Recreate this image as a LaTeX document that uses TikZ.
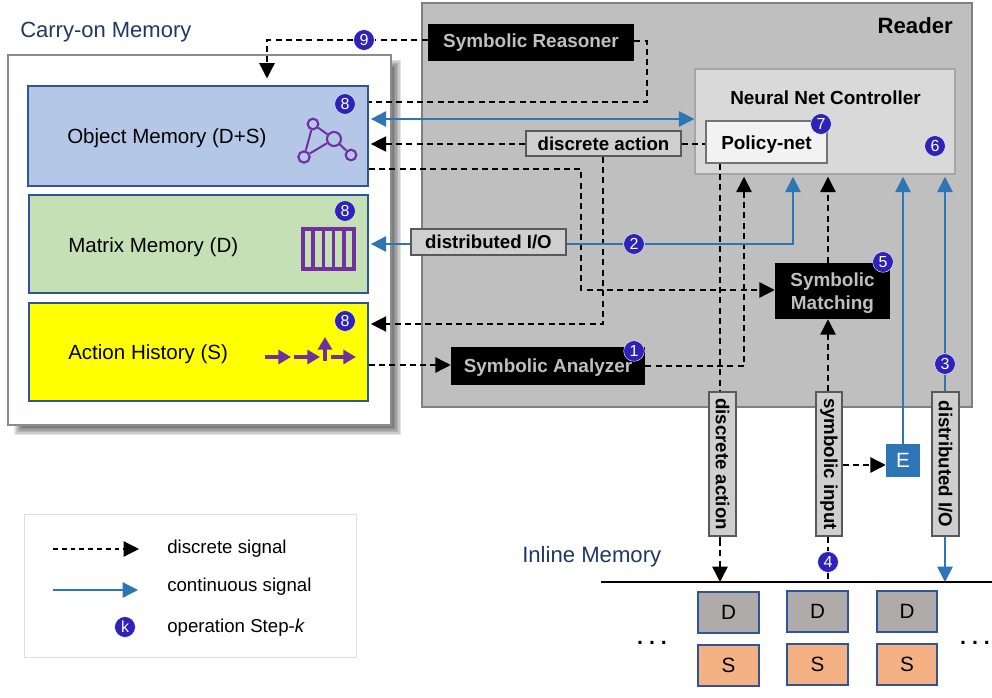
\documentclass[tikz,border=0pt]{standalone}
\usepackage{fontspec}
\usepackage{graphicx}
\setmainfont{Liberation Sans}
\usetikzlibrary{arrows.meta,calc}
\definecolor{blu}{HTML}{2E75B6}
\definecolor{badgec}{HTML}{2E22B8}
\definecolor{purp}{HTML}{7030A0}
\definecolor{navy}{HTML}{1F3864}
\definecolor{edge}{HTML}{2F5597}
\definecolor{omc}{HTML}{B4C7E7}
\definecolor{mmc}{HTML}{C5E0B4}
\definecolor{dc}{HTML}{AFABAB}
\definecolor{sc}{HTML}{F4B183}
\definecolor{yel}{HTML}{FFFF00}
\newcommand{\fs}[1]{\fontsize{#1}{#1}\selectfont}
\newcommand{\pb}[7][]{\node[#1, inner sep=0pt, align=center, minimum width={(#5-#3)*0.75pt}, minimum height={(#6-#4)*0.75pt}] (#2) at ({(#3+#5)/2},{(#4+#6)/2}) {#7};}
\newcommand{\bdg}[4]{\node[badgenode] (#1) at (#2,#3) {#4};}
\tikzset{
 badgenode/.style={circle, fill=badgec, draw=white, line width=0.3pt, text=white, minimum size=15.5pt, inner sep=0pt, font=\fs{12}},
 memb/.style={draw=edge, line width=1.3pt},
 blk/.style={fill=black, text=black!25, font=\bfseries\fs{14.2}},
 lab/.style={fill=black!19, draw=black!65, line width=1.2pt, font=\bfseries\fs{14}},
 cell/.style={draw=edge, line width=1.3pt, font=\fs{15.5}},
 dsig/.style={draw=black, line width=1.1pt, dash pattern=on 4.5pt off 3.2pt, -{Triangle[length=11.5pt,width=11.5pt]}, shorten >=1.5pt},
 dline/.style={draw=black, line width=1.1pt, dash pattern=on 4.5pt off 3.2pt},
 bsig/.style={draw=blu, line width=1.3pt, -{Triangle[length=11.5pt,width=11.5pt]}, shorten >=1.5pt},
 bline/.style={draw=blu, line width=1.3pt},
 icon/.style={draw=purp, line width=1.5pt},
 dot/.style={circle, draw=purp, line width=1.6pt, inner sep=0pt, minimum size=#1},
 parr/.style={draw=purp, line width=2.8pt, -{Triangle[length=9.5pt,width=10.5pt]}},
 txt/.style={anchor=west, inner sep=0pt},
}
\begin{document}
\begin{tikzpicture}[x=0.75pt,y=-0.75pt]
\useasboundingbox (0,0) rectangle (992,698);
% Reader
\pb[fill=black!25, draw=black!50, line width=0.9pt]{reader}{422}{3}{972}{407}{}
\node[anchor=east, inner sep=0pt, font=\bfseries\fs{16.6}] (readerT) at (953,26) {Reader};
% Carry-on shadow
\foreach \d in {0,1.5,3,4.5,6,7.5}
  \fill[black, opacity=.11] ({14+\d},{60+\d}) rectangle ({401-\d},{435-\d});
\pb[fill=white, draw=black!45, line width=0.9pt]{carry}{8}{55}{391}{425}{}
\node[txt, text=navy, font=\fs{16.5}] (carryT) at (20,32) {Carry-on Memory};
\pb[memb, fill=omc]{om}{28}{86}{368}{186}{}
\pb[memb, fill=mmc]{mm}{29}{195}{368}{293}{}
\pb[memb, fill=yel]{ah}{29}{303}{368}{401}{}
\node[txt, font=\fs{15.4}] (omT) at (67,138) {Object Memory (D+S)};
\node[txt, font=\fs{15.4}] (mmT) at (68,247) {Matrix Memory (D)};
\node[txt, font=\fs{15.4}] (ahT) at (68,354) {Action History (S)};
% object icon
\node[dot=8pt] (g1) at (313,124) {};
\node[dot=10.5pt] (g2) at (334,139) {};
\node[dot=8.5pt] (g3) at (304,157) {};
\node[dot=8pt] (g4) at (351,155) {};
\draw[icon] (g1) -- (g2) (g1) -- (g3) (g3) -- (g2) (g2) -- (g4);
% matrix icon
\draw[icon, line width=2.6pt] (303,229) rectangle (354,269);
\foreach \x in {313.2,323.4,333.6,343.8} \draw[icon, line width=2.6pt] (\x,229) -- (\x,269);
% history icon
\draw[parr] (265,357) -- (291,357);
\draw[parr] (294,357) -- (320,357);
\draw[parr] (331,357) -- (356,357);
\draw[parr] (325,361) -- (325,337);
% black boxes etc.
\pb[blk]{sr}{428}{24}{634}{61}{Symbolic Reasoner}
\pb[fill=black!15, draw=black!35, line width=1.1pt]{nn}{695}{69}{955}{174}{}
\node[font=\bfseries\fs{14.2}, inner sep=0pt] (nnT) at (825.5,98) {Neural Net Controller};
\pb[fill=black!5, draw=black!55, line width=1.4pt, text height=12pt, text depth=0pt, font=\bfseries\fs{14.2}]{pn}{706}{121}{827}{163}{Policy-net}
\pb[lab]{da}{526}{131}{681}{156}{discrete action}
\pb[lab]{dio}{411}{229}{566}{255}{distributed I/O}
\pb[blk, text depth=0pt]{sm}{775}{263}{890}{319}{Symbolic\\[3.3pt]Matching}
\pb[blk, text depth=0pt]{sa}{451}{347}{645}{385}{Symbolic Analyzer}
\pb[lab]{vda}{709}{392}{736}{536}{\rotatebox{-90}{discrete action}}
\pb[lab]{vsi}{816}{392}{842}{536}{\rotatebox{-90}{symbolic input}}
\pb[lab]{vdio}{932}{392}{959}{536}{\rotatebox{-90}{distributed I/O}}
\pb[fill=blu, text=white, font=\fs{15.5}]{E}{886}{444}{920}{477}{E}
% inline memory
\node[txt, text=navy, font=\fs{16.6}] (imT) at (522,557) {Inline Memory};
\coordinate (il) at (601,582);
\coordinate (ir) at (992,582);
\draw[black, line width=1.6pt] (il) -- (ir);
\pb[cell, fill=dc]{d1}{698}{592}{759}{633}{D}
\pb[cell, fill=dc]{d2}{787}{591}{848}{632}{D}
\pb[cell, fill=dc]{d3}{877}{591}{937}{632}{D}
\pb[cell, fill=sc]{s1}{698}{645}{759}{686}{S}
\pb[cell, fill=sc]{s2}{787}{644}{848}{685}{S}
\pb[cell, fill=sc]{s3}{877}{644}{937}{685}{S}
\node[inner sep=0pt, font=\bfseries\fs{16}] (dotsL) at (652,643) {.\hspace{4.5pt}.\hspace{4.5pt}.};
\node[inner sep=0pt, font=\bfseries\fs{16}] (dotsR) at (975,643) {.\hspace{4.5pt}.\hspace{4.5pt}.};
% badges
\bdg{b9}{364}{40}{9}
\bdg{b8a}{345}{104}{8}
\bdg{b8b}{345}{211}{8}
\bdg{b8c}{345}{321}{8}
\bdg{b7}{821}{124}{7}
\bdg{b6}{935}{146}{6}
\bdg{b5}{883}{262}{5}
\bdg{b1}{634}{351}{1}
\bdg{b2}{634}{244}{2}
\bdg{b3}{945}{364}{3}
\bdg{b4}{828}{562}{4}
% connectors
\draw[dline] (sr.west |- b9) -- (b9);
\draw[dsig, shorten >=5pt] (b9) -| (om.north -| 267,0);
\draw[dline] (sr.east |- 0,41) -- (647,41) -- (647,102) -- (om.east |- 0,102);
\draw[bline, {Triangle[length=11.5pt,width=11.5pt]}-{Triangle[length=11.5pt,width=11.5pt]}, shorten <=1.5pt, shorten >=0pt] (om.east |- 0,119) -- (nn.west |- 0,119);
\draw[dsig] (da.west |- 0,144) -- (om.east |- 0,144);
\draw[dline] (da.east |- 0,144) -- (pn.west |- 0,144);
\draw[dsig, shorten >=0pt] (om.east |- 0,169) -- (581,169) -- (581,290) -- (sm.west |- 0,290);
\draw[dsig] (da.south -| 603,0) |- (ah.east |- 0,324);
\draw[dsig, shorten >=0pt] (ah.east |- 0,365) -- (sa.west |- 0,365);
\draw[dsig] (sa.east |- 0,366) -| (nn.south -| 744,0);
\draw[dline] (pn.south -| 720,0) -- (vda.north -| 720,0);
\draw[dline] (vda.south -| 720,0) -- (720,540);
\draw[dsig, shorten >=0pt] (720,540) -- (il -| 720,0);
\draw[dsig, shorten >=0pt] (vsi.north -| 828,0) -- (sm.south -| 828,0);
\draw[dsig] (sm.north -| 828,0) -- (nn.south -| 828,0);
\draw[dline] (vsi.south -| 828,0) -- (b4);
\draw[dline] (b4) -- (il -| 828,0);
\draw[dsig, shorten >=0pt] (vsi.east |- 0,465) -- (E.west |- 0,465);
\draw[bsig] (E.north) -- (nn.south -| E.north);
\draw[bline] (vdio.north -| b3) -- (b3);
\draw[bsig] (b3) -- (nn.south -| b3);
\draw[bsig, shorten >=0pt] (vdio.south -| b3) -- (il -| b3);
\draw[bsig] (dio.west |- b2) -- (mm.east |- b2);
\draw[bline] (dio.east |- b2) -- (b2);
\draw[bsig] (b2) -| (nn.south -| 793,0);
% legend
\pb[draw=black!13, line width=0.7pt]{lg}{24}{514}{356}{657}{}
\coordinate (l1a) at (53,549); \coordinate (l1b) at (139,549);
\coordinate (l2a) at (53,590); \coordinate (l2b) at (138,590);
\draw[dsig, line width=0.9pt, dash pattern=on 3.6pt off 3pt, shorten >=0pt] (l1a) -- (l1b);
\draw[bsig, line width=1pt, shorten >=0pt] (l2a) -- (l2b);
\bdg{bk}{125}{627}{k}
\node[txt, font=\fs{14}] (t1) at (167,549) {discrete signal};
\node[txt, font=\fs{14}] (t2) at (167,587) {continuous signal};
\node[txt, font=\fs{14}] (t3) at (167,628) {operation Step-\textit{k}};
\end{tikzpicture}
\end{document}
